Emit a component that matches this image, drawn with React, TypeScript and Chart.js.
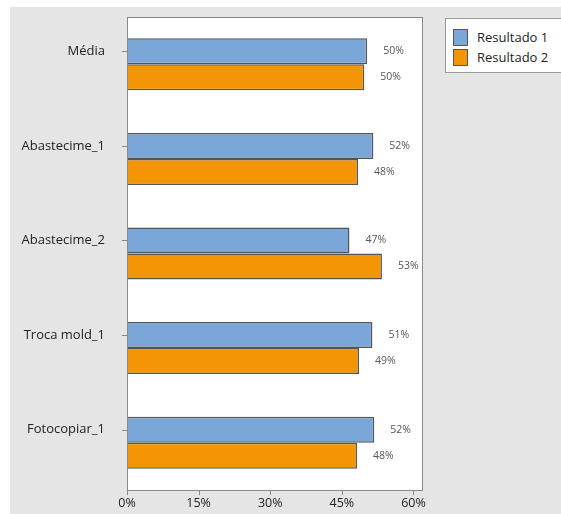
import React, { useEffect, useRef } from "react";
import { Chart, registerables } from "chart.js";

Chart.register(...registerables);

const categories = ["Média", "Abastecime_1", "Abastecime_2", "Troca mold_1", "Fotocopiar_1"];
const resultado1 = [50.3, 51.6, 46.6, 51.4, 51.8];
const resultado2 = [49.7, 48.4, 53.4, 48.6, 48.2];
const seriesNames = ["Resultado 1", "Resultado 2"];
const xTicks = [0, 15, 30, 45, 60];

const BLUE = "#7ba6d8";
const ORANGE = "#f39505";
const EDGE = "#555555";
const FONT = "'Open Sans', 'Noto Sans', sans-serif";

const decorPlugin = {
  id: "decor",
  beforeDatasetsDraw(chart: any) {
    const { ctx, chartArea } = chart;
    ctx.save();
    ctx.fillStyle = "#ffffff";
    ctx.fillRect(chartArea.left, chartArea.top, chartArea.right - chartArea.left, chartArea.bottom - chartArea.top);
    ctx.restore();
  },
  afterDatasetsDraw(chart: any) {
    const { ctx, chartArea, scales } = chart;
    ctx.save();
    // plot border
    ctx.strokeStyle = "#8a8a8a";
    ctx.lineWidth = 1;
    ctx.strokeRect(chartArea.left + 0.5, chartArea.top + 0.5, chartArea.right - chartArea.left - 1, chartArea.bottom - chartArea.top);
    // x tick marks
    ctx.beginPath();
    xTicks.forEach((v) => {
      const x = Math.round(scales.x.getPixelForValue(v)) + 0.5;
      ctx.moveTo(x, chartArea.bottom);
      ctx.lineTo(x, chartArea.bottom + 5);
    });
    // y tick marks at first bar centre
    const meta0 = chart.getDatasetMeta(0);
    meta0.data.forEach((bar: any) => {
      const y = Math.round(bar.y) + 0.5;
      ctx.moveTo(chartArea.left - 5, y);
      ctx.lineTo(chartArea.left, y);
    });
    ctx.stroke();
    // category labels aligned with first bar
    ctx.fillStyle = "#222222";
    ctx.font = `13px ${FONT}`;
    ctx.textAlign = "right";
    ctx.textBaseline = "middle";
    meta0.data.forEach((bar: any, i: number) => {
      ctx.fillText(chart.data.labels[i], chartArea.left - 22, bar.y);
    });
    // value labels
    ctx.fillStyle = "#555555";
    ctx.font = `10.5px ${FONT}`;
    ctx.textAlign = "left";
    chart.data.datasets.forEach((ds: any, di: number) => {
      const meta = chart.getDatasetMeta(di);
      meta.data.forEach((bar: any, i: number) => {
        ctx.fillText(Math.round(ds.data[i]) + "%", bar.x + 16, bar.y);
      });
    });
    ctx.restore();
  },
};

export default function App() {
  const ref = useRef<HTMLCanvasElement>(null);
  useEffect(() => {
    if (!ref.current) return;
    const chart = new Chart(ref.current, {
      type: "bar",
      data: {
        labels: categories,
        datasets: [
          { label: seriesNames[0], data: resultado1, backgroundColor: BLUE, borderColor: EDGE, borderWidth: 1.5 },
          { label: seriesNames[1], data: resultado2, backgroundColor: ORANGE, borderColor: EDGE, borderWidth: 1.5 },
        ],
      },
      options: {
        indexAxis: "y",
        animation: false,
        responsive: false,
        maintainAspectRatio: false,
        layout: { padding: { left: 0, top: 10, right: 138, bottom: 0 } },
        datasets: { bar: { categoryPercentage: 0.55, barPercentage: 1 } },
        plugins: { legend: { display: false }, tooltip: { enabled: false } },
        scales: {
          x: {
            min: 0,
            max: 62,
            afterBuildTicks: (scale: any) => {
              scale.ticks = xTicks.map((v) => ({ value: v }));
            },
            afterFit: (scale: any) => {
              scale.height = 24;
            },
            grid: { display: false, drawTicks: false },
            border: { display: false },
            ticks: {
              padding: 6,
              color: "#222222",
              font: { family: FONT, size: 12.5 },
              callback: (v: any) => v + "%",
              maxRotation: 0,
              autoSkip: false,
            },
          },
          y: {
            afterFit: (scale: any) => {
              scale.width = 117;
            },
            grid: { display: false, drawTicks: false },
            border: { display: false },
            ticks: { display: false },
          },
        },
      },
      plugins: [decorPlugin],
    } as any);
    return () => chart.destroy();
  }, []);

  const swatch = (c: string): React.CSSProperties => ({
    width: 15,
    height: 17,
    background: c,
    border: `1px solid ${EDGE}`,
    boxSizing: "border-box",
    marginRight: 9,
    flexShrink: 0,
  });

  return (
    <div style={{ position: "absolute", left: 0, top: 0, width: 561, height: 514, background: "#ffffff", overflow: "hidden" }}>
      <div style={{ position: "absolute", left: 10, top: 7, width: 551, height: 507, background: "#e5e5e5" }}>
        <canvas ref={ref} width={551} height={507} style={{ position: "absolute", left: 0, top: 0, width: 551, height: 507 }} />
        <div
          style={{
            position: "absolute",
            left: 435,
            top: 11,
            width: 130,
            height: 55,
            background: "#ffffff",
            border: "1px solid #999999",
            boxSizing: "border-box",
            fontFamily: FONT,
            fontSize: 13,
            color: "#222222",
            padding: "8px 0 0 7px",
          }}
        >
          {seriesNames.map((n, i) => (
            <div key={n} style={{ display: "flex", alignItems: "center", height: 20 }}>
              <div style={swatch(i === 0 ? BLUE : ORANGE)} />
              <span>{n}</span>
            </div>
          ))}
        </div>
      </div>
    </div>
  );
}
